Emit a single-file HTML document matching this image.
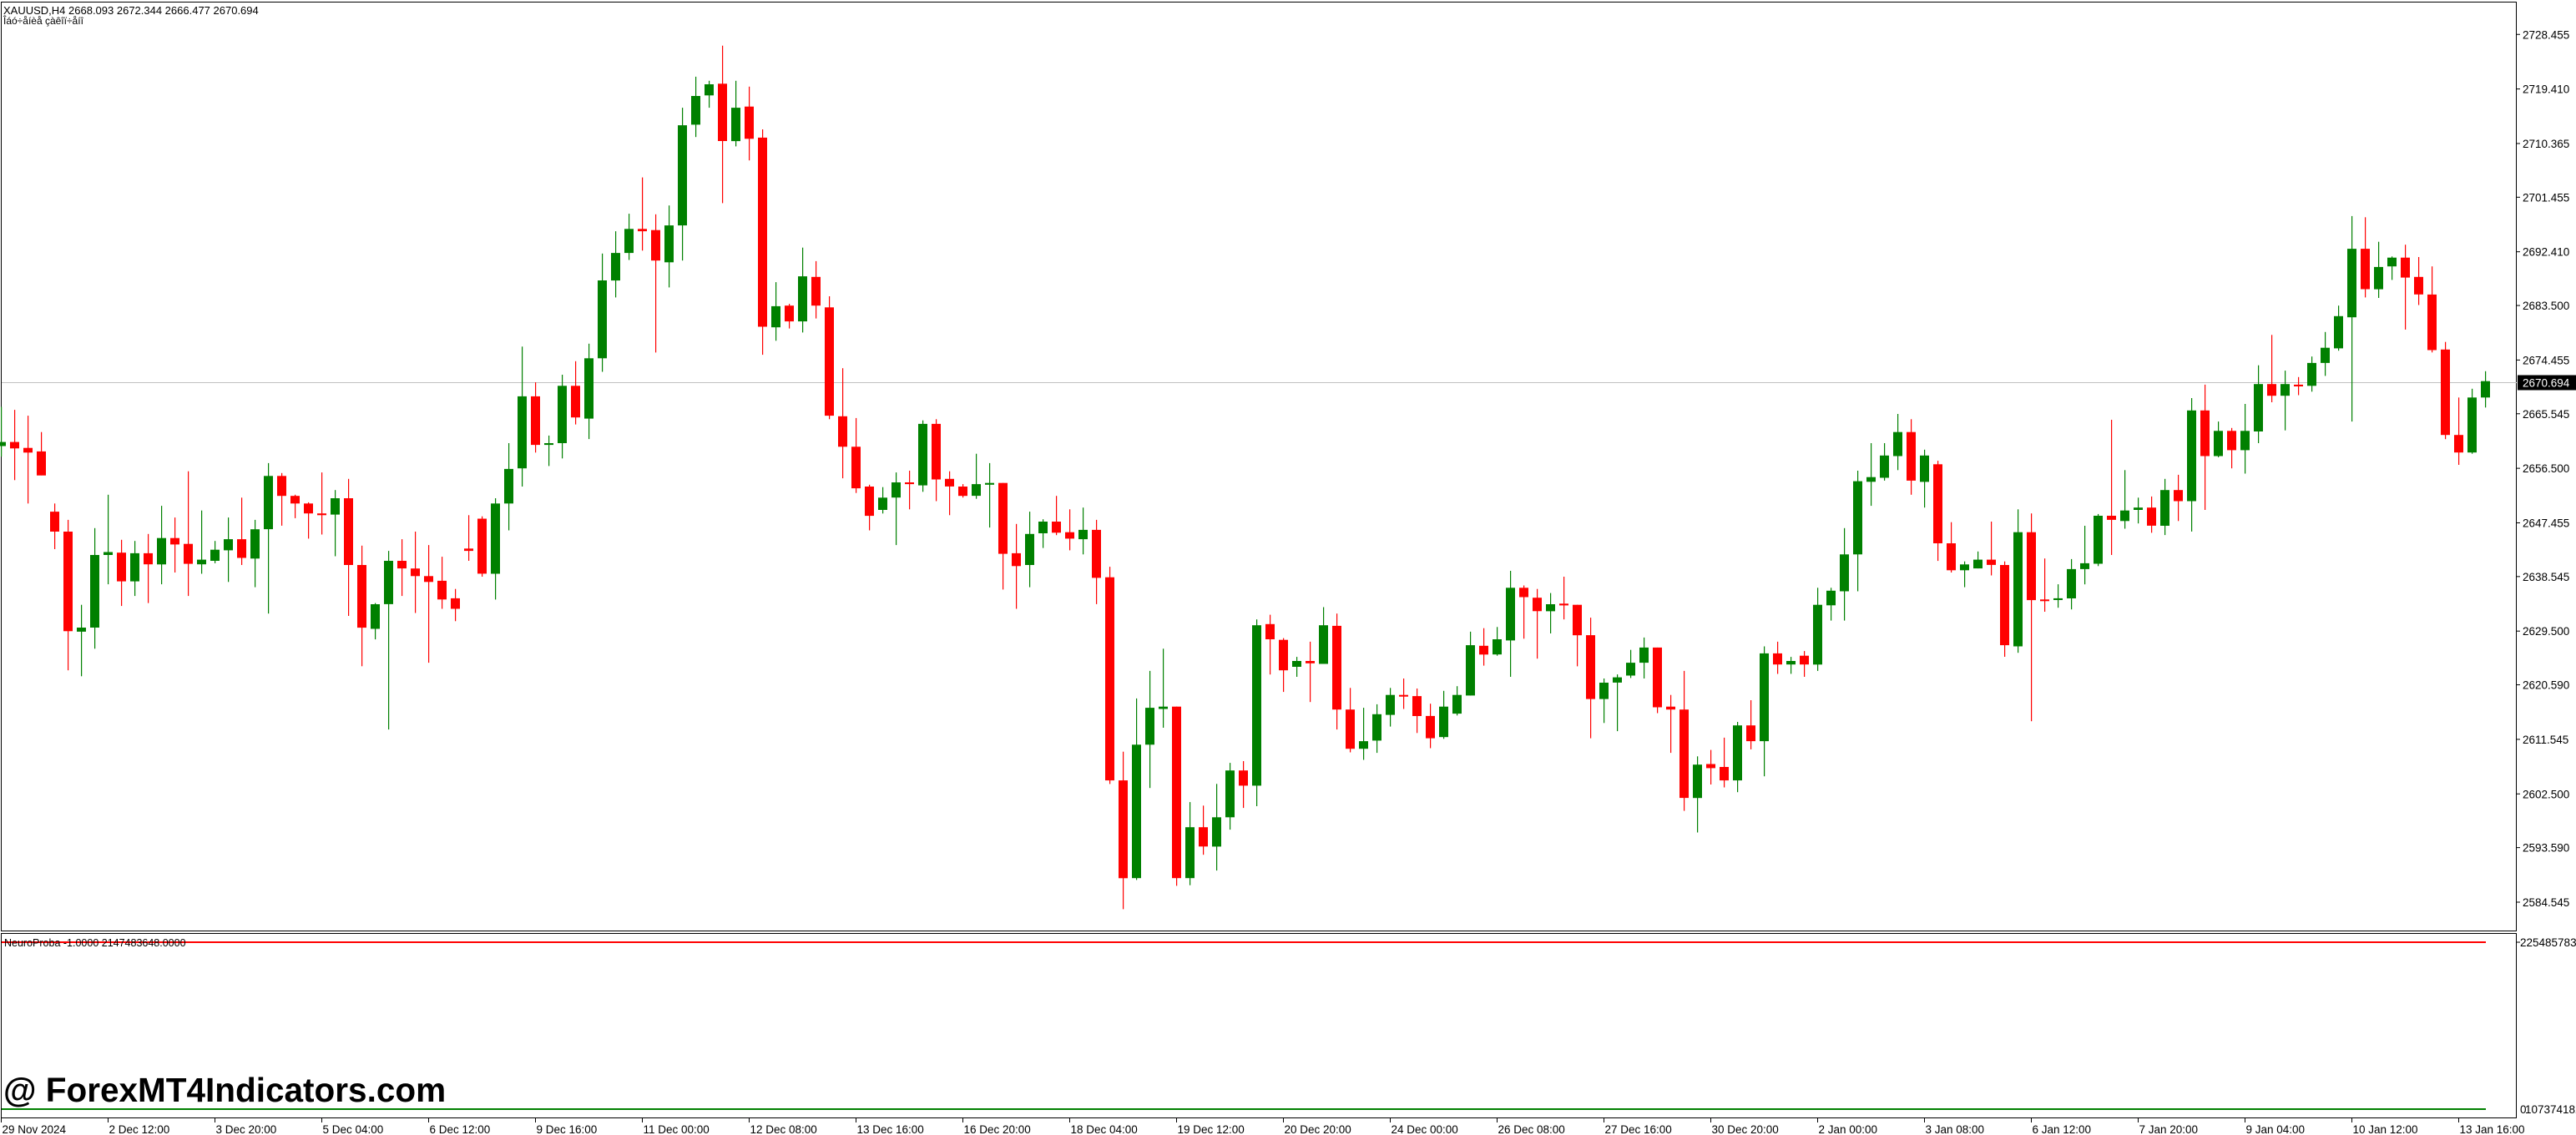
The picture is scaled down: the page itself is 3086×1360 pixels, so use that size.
<!DOCTYPE html>
<html><head><meta charset="utf-8"><style>
html,body{margin:0;padding:0;background:#fff;}
body{width:3086px;height:1360px;overflow:hidden;position:relative;}
svg{position:absolute;left:0;top:0;}
text{font-family:"Liberation Sans",sans-serif;}
</style></head><body>
<svg id="s" width="3086" height="1360" xmlns="http://www.w3.org/2000/svg"></svg>
<script>
var d=[
['g',695,755,762,780],['r',700,755,766,820],['r',710,765,773,860],['r',738,771,812,812],['r',860,874,908,938],['r',888,908,1078,1145],['g',1033,1072,1079,1155],['g',902,948,1072,1108],['g',845,943,948,998],['r',922,944,993,1035],
['g',924,945,993,1018],['r',912,945,964,1030],['g',864,919,964,998],['r',884,919,930,978],['r',805,929,963,1018],['g',872,956,964,980],['g',924,939,958,962],['g',884,921,940,994],['r',850,921,953,965],['g',888,904,954,1003],
['g',791,813,904,1048],['r',808,813,847,898],['r',845,847,860,885],['r',858,860,877,920],['r',807,877,880,913],['g',837,851,879,950],['r',818,851,965,1052],['r',932,965,1072,1138],['g',1030,1032,1074,1092],['g',941,958,1032,1246],
['r',921,958,971,1018],['r',908,971,984,1047],['r',931,984,994,1132],['r',951,992,1024,1040],['r',1006,1022,1040,1061],['r',880,937,941,958],['r',882,886,980,985],['g',851,860,980,1024],['g',757,801,860,906],['g',592,677,800,831],
['r',653,677,760,773],['g',744,757,760,796],['g',640,659,757,783],['r',617,659,713,725],['g',587,612,715,750],['g',433,479,612,635],['g',395,432,479,508],['g',365,391,432,444],['r',303,391,395,428],['r',366,393,445,602],
['g',351,385,448,491],['g',184,214,385,445],['g',131,164,213,234],['g',138,144,163,184],['r',78,143,241,347],['g',138,184,241,250],['r',148,182,237,274],['r',221,235,558,606],['g',482,523,559,582],['r',519,522,549,561],
['g',423,472,549,568],['r',446,473,522,544],['r',506,525,710,716],['r',629,711,763,817],['r',714,763,834,842],['r',828,831,881,906],['g',832,850,871,877],['g',807,824,850,931],['r',804,824,827,870],['g',718,724,829,840],
['r',716,724,819,856],['r',805,818,831,880],['r',827,831,847,850],['g',775,827,847,852],['g',791,825,828,901],['r',825,825,946,1007],['r',895,945,967,1040],['g',874,912,965,1003],['g',887,891,911,936],['r',847,891,910,914],
['r',870,909,920,940],['g',867,905,921,947],['r',888,905,987,1032],['r',968,986,1333,1339],['r',1284,1333,1500,1553],['g',1193,1272,1500,1503],['g',1146,1209,1272,1346],['g',1108,1207,1211,1243],['r',1207,1207,1500,1513],['g',1370,1413,1500,1512],
['r',1376,1413,1446,1460],['g',1339,1396,1446,1487],['g',1303,1316,1396,1417],['r',1300,1316,1342,1380],['g',1058,1068,1342,1377],['r',1050,1066,1092,1152],['r',1090,1093,1145,1182],['g',1122,1129,1139,1156],['r',1096,1129,1133,1199],['g',1037,1068,1134,1134],
['r',1048,1069,1212,1246],['r',1175,1212,1279,1285],['g',1209,1266,1279,1298],['g',1203,1220,1265,1286],['g',1175,1187,1221,1241],['r',1159,1187,1189,1211],['r',1176,1189,1223,1252],['r',1202,1223,1261,1278],['g',1180,1207,1259,1262],['g',1172,1187,1219,1222],
['g',1079,1102,1188,1188],['r',1073,1103,1118,1137],['g',1071,1092,1118,1120],['g',975,1004,1094,1156],['r',1000,1004,1020,1091],['r',1006,1021,1044,1125],['g',1013,1032,1044,1082],['r',985,1031,1034,1058],['r',1033,1033,1085,1138],['r',1055,1085,1194,1261],
['g',1159,1166,1194,1235],['g',1152,1157,1166,1249],['g',1110,1132,1154,1158],['g',1089,1106,1132,1159],['r',1106,1106,1208,1218],['r',1187,1207,1212,1286],['r',1146,1212,1363,1385],['g',1292,1306,1363,1422],['r',1281,1305,1312,1340],['r',1260,1310,1333,1345],
['g',1233,1239,1333,1353],['r',1196,1239,1266,1280],['g',1104,1116,1266,1326],['r',1096,1116,1135,1151],['g',1122,1129,1135,1151],['r',1112,1120,1135,1156],['g',1004,1033,1135,1146],['g',1004,1009,1034,1060],['g',902,947,1010,1060],['g',804,822,947,1010],
['g',757,815,823,864],['g',757,778,816,821],['g',707,738,779,803],['r',716,738,821,845],['g',768,778,823,867],['r',787,793,928,958],['r',892,928,974,978],['g',959,964,974,1003],['g',942,956,971,971],['r',891,956,965,983],
['r',959,965,1102,1122],['g',870,909,1104,1115],['r',877,909,1025,1232],['r',954,1024,1026,1045],['g',998,1022,1025,1038],['g',955,972,1022,1041],['g',898,962,972,998],['g',878,881,963,967],['r',717,881,888,948],['g',803,872,890,903],
['g',850,867,871,894],['r',848,867,898,910],['g',818,837,898,914],['r',811,837,856,890],['g',680,701,856,908],['r',657,701,779,871],['g',720,736,779,781],['r',731,736,769,800],['g',690,736,769,809],['g',624,656,737,757],
['r',572,656,676,687],['g',633,656,676,735],['r',644,657,660,675],['g',609,620,659,669],['g',567,594,620,642],['g',522,540,595,599],['g',369,425,542,720],['r',371,425,494,508],['g',413,456,494,509],['g',438,440,455,478],
['r',418,440,474,563],['r',439,473,503,521],['r',455,503,598,602],['r',584,597,743,750],['r',679,743,773,794],['g',664,679,773,775],['g',634,651,679,696]
];
var k=1/1.4255,o='';
o+='<rect x="1.5" y="2.5" width="3013" height="1113" fill="none" stroke="#000" stroke-width="1"/>';
o+='<rect x="1.5" y="1118.5" width="3013" height="221" fill="none" stroke="#000" stroke-width="1"/>';
var cy=458.5;
o+='<line x1="2" y1="'+cy+'" x2="3015" y2="'+cy+'" stroke="#c0c0c0" stroke-width="1"/>';
for(var i=0;i<d.length;i++){
 var c=d[i],col=c[0]=='r'?'#ff0000':'#008000',x=1.5+16*i;
 var h=c[1]*k,t=c[2]*k,b=c[3]*k,l=c[4]*k;
 o+='<rect x="'+(x-0.5)+'" y="'+h.toFixed(1)+'" width="1.2" height="'+(l-h).toFixed(1)+'" fill="'+col+'"/>';
 var bh=Math.max(b-t,2);
 o+='<rect x="'+(x-5.5)+'" y="'+t.toFixed(1)+'" width="11" height="'+bh.toFixed(1)+'" fill="'+col+'"/>';
}
var P=[2728.455,2719.410,2710.365,2701.455,2692.410,2683.500,2674.455,2665.545,2656.500,2647.455,2638.545,2629.500,2620.590,2611.545,2602.500,2593.590,2584.545];
P.forEach(function(p){var y=1081-(p-2584.545)*7.225;
 o+='<line x1="3015" y1="'+y+'" x2="3019" y2="'+y+'" stroke="#000"/>';
 o+='<text x="3022" y="'+(y+5)+'" font-size="13.5" fill="#000">'+p.toFixed(3)+'</text>';});
o+='<rect x="3016" y="'+(cy-9)+'" width="70" height="18" fill="#000"/>';
o+='<text x="3022" y="'+(cy+5)+'" font-size="13.5" fill="#fff">2670.694</text>';
o+='<line x1="2" y1="1129" x2="2978" y2="1129" stroke="#ff0000" stroke-width="2"/>';
o+='<line x1="2" y1="1329" x2="2978" y2="1329" stroke="#008000" stroke-width="2"/>';
o+='<text x="5" y="1134" font-size="12.5" fill="#000">NeuroProba -1.0000 2147483648.0000</text>';
o+='<line x1="3015" y1="1129" x2="3019" y2="1129" stroke="#000"/>';
o+='<text x="3019" y="1134" font-size="13.5" fill="#000">225485783</text>';
o+='<text x="3019" y="1334" font-size="13.5" fill="#000">0</text>';
o+='<text x="3025" y="1334" font-size="13.5" fill="#000">1073741824</text>';
o+='<text x="4" y="1320" font-size="40.5" font-weight="bold" fill="#000">@ ForexMT4Indicators.com</text>';
o+='<text x="4" y="17" font-size="13" fill="#000">XAUUSD,H4  2668.093 2672.344 2666.477 2670.694</text>';
o+='<text x="4" y="29" font-size="12" fill="#000">Îáó÷åíèå çàêîï÷åíî</text>';
var T=['29 Nov 2024','2 Dec 12:00','3 Dec 20:00','5 Dec 04:00','6 Dec 12:00','9 Dec 16:00','11 Dec 00:00','12 Dec 08:00','13 Dec 16:00','16 Dec 20:00','18 Dec 04:00','19 Dec 12:00','20 Dec 20:00','24 Dec 00:00','26 Dec 08:00','27 Dec 16:00','30 Dec 20:00','2 Jan 00:00','3 Jan 08:00','6 Jan 12:00','7 Jan 20:00','9 Jan 04:00','10 Jan 12:00','13 Jan 16:00'];
T.forEach(function(s,j){var x=1.5+128*j;
 o+='<line x1="'+x+'" y1="1340" x2="'+x+'" y2="1345" stroke="#000"/>';
 o+='<text x="'+(x+1)+'" y="1358" font-size="13.5" fill="#000">'+s+'</text>';});
document.getElementById('s').innerHTML=o;
</script>
</body></html>
